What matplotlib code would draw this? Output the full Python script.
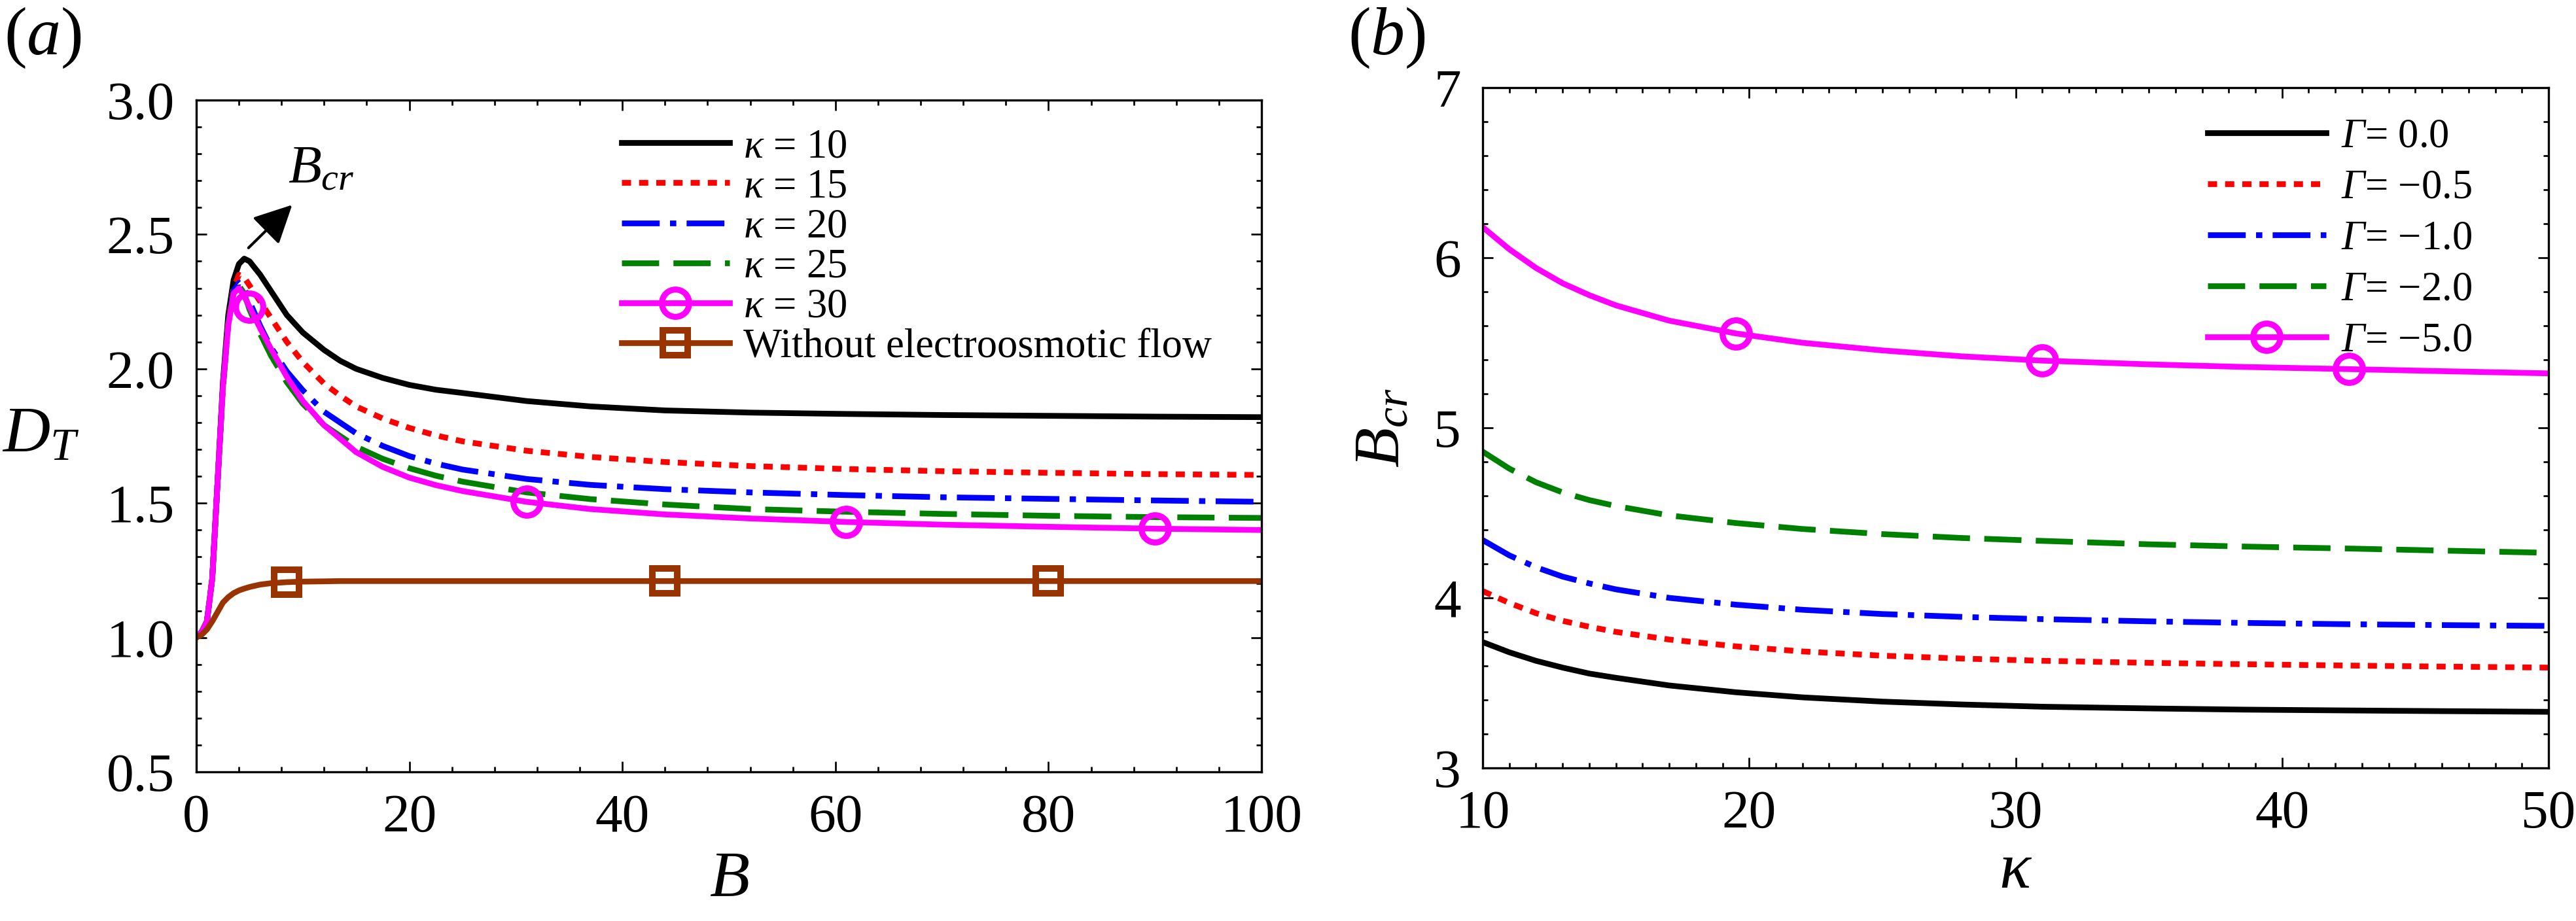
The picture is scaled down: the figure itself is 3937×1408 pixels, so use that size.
import numpy as np
import matplotlib
matplotlib.use('Agg')
import matplotlib.pyplot as plt
from matplotlib.ticker import MultipleLocator

plt.rcParams['font.family'] = 'Liberation Serif'
plt.rcParams['mathtext.fontset'] = 'custom'
plt.rcParams['mathtext.rm'] = 'Liberation Serif'
plt.rcParams['mathtext.it'] = 'Liberation Serif:italic'
plt.rcParams['mathtext.bf'] = 'Liberation Serif:bold'
# sf slot used for italic capital Greek (mathtext forces it-Greek caps upright)
plt.rcParams['mathtext.sf'] = 'Liberation Serif:italic'
plt.rcParams['axes.linewidth'] = 0.8

# ---- panel (a): D_T vs B ----
B = [0, 0.5, 1, 1.5, 2, 2.5, 3, 3.5, 4, 4.5, 5, 6, 7, 8.5, 10, 12, 13.5, 15, 17.5,
     20, 22.5, 25, 31, 37, 44, 52, 61, 70, 80, 90, 100]
DT_k10 = [1.00, 1.02, 1.06, 1.22, 1.58, 1.95, 2.20, 2.33, 2.39, 2.41, 2.40, 2.35,
          2.29, 2.20, 2.135, 2.07, 2.03, 2.00, 1.966, 1.94, 1.922, 1.91, 1.88, 1.86,
          1.845, 1.837, 1.832, 1.828, 1.825, 1.822, 1.82]
DT_k15 = [1.00, 1.02, 1.06, 1.22, 1.58, 1.94, 2.18, 2.30, 2.35, 2.34, 2.31, 2.25,
          2.19, 2.10, 2.025, 1.945, 1.90, 1.86, 1.815, 1.78, 1.752, 1.73, 1.695,
          1.672, 1.653, 1.638, 1.627, 1.619, 1.613, 1.608, 1.605]
DT_k20 = [1.00, 1.02, 1.06, 1.22, 1.58, 1.93, 2.17, 2.29, 2.32, 2.30, 2.25, 2.16,
          2.08, 1.99, 1.92, 1.84, 1.80, 1.76, 1.713, 1.675, 1.647, 1.625, 1.59,
          1.568, 1.552, 1.54, 1.53, 1.522, 1.516, 1.51, 1.505]
DT_k25 = [1.00, 1.02, 1.06, 1.22, 1.58, 1.93, 2.17, 2.28, 2.31, 2.28, 2.22, 2.13,
          2.05, 1.95, 1.87, 1.79, 1.75, 1.71, 1.665, 1.63, 1.602, 1.58, 1.54, 1.515,
          1.495, 1.478, 1.468, 1.46, 1.453, 1.448, 1.445]
DT_k30 = [1.00, 1.02, 1.06, 1.22, 1.58, 1.93, 2.16, 2.28, 2.30, 2.27, 2.23, 2.15,
          2.075, 1.97, 1.88, 1.79, 1.74, 1.69, 1.635, 1.595, 1.567, 1.545, 1.505,
          1.478, 1.458, 1.443, 1.43, 1.42, 1.412, 1.405, 1.40]
DT_noeof = [1.00, 1.01, 1.03, 1.06, 1.095, 1.13, 1.15, 1.165, 1.175, 1.182, 1.188,
            1.197, 1.202, 1.206, 1.208, 1.209, 1.21, 1.21, 1.21, 1.21, 1.21, 1.21,
            1.21, 1.21, 1.21, 1.21, 1.21, 1.21, 1.21, 1.21, 1.21]
marks_k30 = [5, 31, 61, 90]
marks_noeof = [8.5, 44, 80]
labels_a = [r'$\kappa$ = 10', r'$\kappa$ = 15', r'$\kappa$ = 20', r'$\kappa$ = 25',
            r'$\kappa$ = 30', 'Without electroosmotic flow']

# ---- panel (b): B_cr vs kappa ----
kappa = [10, 11, 12, 13, 14, 15, 17, 19.5, 22, 25, 28, 31, 35, 38.5, 42.5, 46, 50]
Bcr_g0 = [3.74, 3.68, 3.63, 3.59, 3.555, 3.53, 3.485, 3.445, 3.415, 3.39, 3.373,
          3.36, 3.35, 3.343, 3.338, 3.334, 3.33]
Bcr_g05 = [4.04, 3.97, 3.91, 3.865, 3.83, 3.80, 3.755, 3.715, 3.685, 3.66, 3.643,
           3.63, 3.618, 3.61, 3.602, 3.596, 3.59]
Bcr_g1 = [4.34, 4.25, 4.18, 4.125, 4.085, 4.05, 4.00, 3.96, 3.93, 3.905, 3.888,
          3.875, 3.862, 3.853, 3.845, 3.84, 3.835]
Bcr_g2 = [4.86, 4.76, 4.68, 4.62, 4.575, 4.54, 4.485, 4.44, 4.405, 4.375, 4.352,
          4.335, 4.315, 4.302, 4.29, 4.278, 4.265]
Bcr_g5 = [6.18, 6.05, 5.94, 5.85, 5.78, 5.72, 5.63, 5.555, 5.50, 5.455, 5.42,
          5.395, 5.373, 5.358, 5.345, 5.333, 5.32]
marks_g5 = [19.5, 31, 42.5]
labels_b = [r'$\mathsf{\Gamma}$= 0.0', r'$\mathsf{\Gamma}$= −0.5', r'$\mathsf{\Gamma}$= −1.0',
            r'$\mathsf{\Gamma}$= −2.0', r'$\mathsf{\Gamma}$= −5.0']

colors = ['#000000', '#ff0000', '#0000ff', '#008000', '#ff00ff']
styles = ['-', (0, (1.6, 1.4)), (0, (6.6, 1.8, 1.1, 1.8)), (0, (6.5, 2.5)), '-']
brown = '#993300'
LW = 2.1

W, H = 3937, 1408
fig = plt.figure(figsize=(W / 300, H / 300), dpi=300)
ax1 = fig.add_axes([300 / W, 1 - 1180 / H, 1628 / W, 1027 / H])
ax2 = fig.add_axes([2266 / W, 1 - 1174 / H, 1629 / W, 1040 / H])


def idx(xs, wanted):
    return [list(xs).index(w) for w in wanted]


series_a = [DT_k10, DT_k15, DT_k20, DT_k25, DT_k30]
for i, ys in enumerate(series_a):
    kw = {}
    if i == 4:
        kw = dict(marker='o', markevery=idx(B, marks_k30), ms=10, mfc='none',
                  mec=colors[i], mew=2.2)
    ax1.plot(B, ys, color=colors[i], ls=styles[i], lw=LW, label=labels_a[i], **kw)
ax1.plot(B, DT_noeof, color=brown, lw=LW, marker='s', markevery=idx(B, marks_noeof),
         ms=9, mfc='none', mec=brown, mew=2.4, label=labels_a[5])

series_b = [Bcr_g0, Bcr_g05, Bcr_g1, Bcr_g2, Bcr_g5]
for i, ys in enumerate(series_b):
    kw = {}
    if i == 4:
        kw = dict(marker='o', markevery=idx(kappa, marks_g5), ms=10, mfc='none',
                  mec=colors[i], mew=2.2)
    ax2.plot(kappa, ys, color=colors[i], ls=styles[i], lw=LW, label=labels_b[i], **kw)

ax1.set_xlim(0, 100)
ax1.set_ylim(0.5, 3.0)
ax1.xaxis.set_major_locator(MultipleLocator(20))
ax1.xaxis.set_minor_locator(MultipleLocator(4))
ax1.yaxis.set_major_locator(MultipleLocator(0.5))
ax1.yaxis.set_minor_locator(MultipleLocator(0.1))
ax1.yaxis.set_major_formatter(plt.FormatStrFormatter('%.1f'))

ax2.set_xlim(10, 50)
ax2.set_ylim(3, 7)
ax2.xaxis.set_major_locator(MultipleLocator(10))
ax2.xaxis.set_minor_locator(MultipleLocator(1))
ax2.yaxis.set_major_locator(MultipleLocator(1))
ax2.yaxis.set_minor_locator(MultipleLocator(0.2))

for ax in (ax1, ax2):
    ax.tick_params(which='both', direction='in', top=True, right=True, width=0.65,
                   labelsize=20, pad=8)
    ax.tick_params(which='major', length=3.8)
    ax.tick_params(which='minor', length=1.9)

ax1.set_xlabel(r'$B$', fontsize=24, va='center')
ax1.xaxis.set_label_coords(0.5, -0.162)
ax1.set_ylabel(r'$D_T$', fontsize=24, rotation=0, ha='center', va='center')
ax1.yaxis.set_label_coords(-0.146, 0.5)

ax2.set_xlabel(r'$\kappa$', fontsize=24, va='center')
ax2.xaxis.set_label_coords(0.5, -0.153)
ax2.set_ylabel(r'$B_{cr}$', fontsize=24, rotation=90, ha='center', va='center')
ax2.yaxis.set_label_coords(-0.093, 0.5)

ax1.annotate('', xy=(9.0, 2.61), xytext=(4.9, 2.45),
             arrowprops=dict(arrowstyle='-|>', color='k', lw=1.0, mutation_scale=30,
                             shrinkA=0, shrinkB=0))
ax1.text(8.6, 2.693, r'$B_{cr}$', fontsize=20, ha='left', va='baseline')

ax1.legend(loc='upper left', bbox_to_anchor=(0.399, 0.958), frameon=False, fontsize=15,
           borderpad=0, borderaxespad=0, handlelength=2.64, handletextpad=0.35,
           labelspacing=0.05, numpoints=1)
ax2.legend(loc='upper left', bbox_to_anchor=(0.680, 0.955), frameon=False, fontsize=15,
           borderpad=0, borderaxespad=0, handlelength=2.9, handletextpad=0.37,
           labelspacing=0.32, numpoints=1)

fig.text(6 / W, 1 - 58 / H, r'($\mathit{a}$)', fontsize=25, ha='left', va='center')
fig.text(2060 / W, 1 - 58 / H, r'($\mathit{b}$)', fontsize=25, ha='left', va='center')

fig.savefig('out.png', dpi=300)
